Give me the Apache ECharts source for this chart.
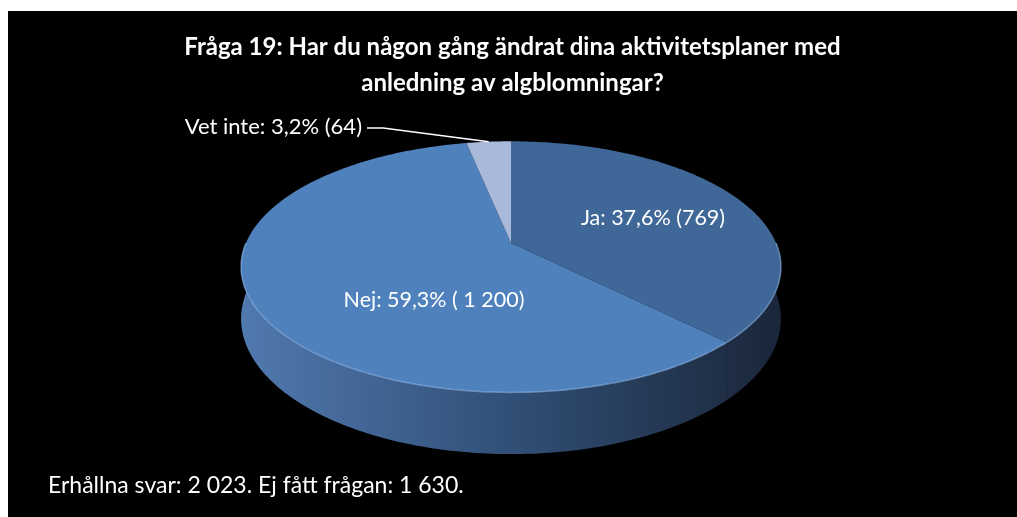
<!DOCTYPE html>
<html>
<head>
<meta charset="utf-8">
<script src="https://cdn.jsdelivr.net/npm/echarts@6/dist/echarts.min.js"></script>
<style>
  html, body { margin: 0; padding: 0; background: #fff; }
  #chart { position: absolute; left: 8px; top: 11px; width: 1009px; height: 506px; background: #000; }
</style>
</head>
<body>
<div id="chart"></div>
<script>
const categories = ['Ja', 'Nej', 'Vet inte']
const percents = [37.6, 59.3, 3.2]
const countLabels = ['769', ' 1 200', '64']
const topColors = ['#3f6797', '#4f81bd', '#a9b9d9']

const titleText = 'Fråga 19: Har du någon gång ändrat dina aktivitetsplaner med\nanledning av algblomningar?'
const footText = 'Erhållna svar: 2 023. Ej fått frågan: 1 630.'

// pie geometry (perspective projection of a tilted disc)
const CX = 503, CY = 232
const A = 265, B = 121, P = 0.19, H = 50
const DEG = Math.PI / 180

// label placement, pixel offset from pie centre
const labelOffsets = [[142, -25], [-77, 57], null]

const total = percents.reduce((s, v) => s + v, 0)
let acc = 0
const slices = percents.map((v, i) => {
  const start = acc / total * 360
  acc += v
  return [v, start, acc / total * 360]
})

function proj(deg, r, down) {
  const t = deg * DEG
  const X = r * Math.sin(t), Z = r * Math.cos(t)
  const w = 1 + P * Z
  return [CX + A * X / w, CY - B * Z / w + (down ? H / w : 0)]
}

function arc(a, b, down) {
  const pts = []
  const n = Math.max(2, Math.ceil(Math.abs(b - a)))
  for (let k = 0; k <= n; k++) pts.push(proj(a + (b - a) * k / n, 1, down))
  return pts
}

const sideGrad = new echarts.graphic.LinearGradient(CX - 270, 0, CX + 270, 0, [
  { offset: 0, color: '#5079ae' },
  { offset: 0.5, color: '#314f76' },
  { offset: 1, color: '#1a2639' },
], true)

function fmtPct(v) { return String(v).replace('.', ',') }

function renderItem(params, api) {
  const i = params.dataIndex
  const s = api.value(1), e = api.value(2)
  const children = []

  // front wall
  const ws = Math.max(s, 90), we = Math.min(e, 270)
  if (we > ws) {
    const topEdge = arc(ws, we, false)
    const bottomEdge = arc(ws, we, true).reverse()
    children.push({
      type: 'polygon', z2: 1,
      shape: { points: topEdge.concat(bottomEdge) },
      style: { fill: sideGrad },
    })
    children.push({
      type: 'polyline', z2: 6,
      shape: { points: topEdge },
      style: { stroke: 'rgba(150,190,240,0.55)', lineWidth: 1.5, fill: null },
    })
  }

  // top face
  children.push({
    type: 'polygon', z2: 5,
    shape: { points: [[CX, CY]].concat(arc(s, e, false)) },
    style: { fill: topColors[i] },
  })

  const text = categories[i] + ': ' + fmtPct(percents[i]) + '% (' + countLabels[i] + ')'
  const off = labelOffsets[i]
  if (off) {
    children.push({
      type: 'text', z2: 10,
      style: {
        text, x: CX + off[0], y: CY + off[1], fill: '#fff',
        font: '21.5px Lato', align: 'center', verticalAlign: 'middle',
      },
    })
  } else {
    const tip = proj((s + e) / 2, 1, false)
    const tx = 354, ty = 116
    children.push({
      type: 'text', z2: 10,
      style: { text, x: tx, y: ty, fill: '#fff', font: '22px Lato', align: 'right', verticalAlign: 'middle' },
    })
    children.push({
      type: 'polyline', z2: 10,
      shape: { points: [[tx + 5, ty + 1], [tx + 21, ty + 1], tip] },
      style: { stroke: '#fff', lineWidth: 1.5, fill: null },
    })
  }
  return { type: 'group', children }
}

const chart = echarts.init(document.getElementById('chart'), null, { renderer: 'canvas' })
chart.setOption({
  backgroundColor: '#000',
  animation: false,
  title: [
    {
      text: titleText, left: 'center', top: 13,
      textStyle: { color: '#fff', fontFamily: 'Lato', fontWeight: 'bold', fontSize: 24, lineHeight: 36 },
    },
    {
      text: footText, left: 35, top: 458,
      textStyle: { color: '#fff', fontFamily: 'Lato', fontWeight: 'normal', fontSize: 23 },
    },
  ],
  series: [{
    type: 'custom',
    coordinateSystem: 'none',
    renderItem,
    data: slices,
  }],
})
</script>
</body>
</html>
